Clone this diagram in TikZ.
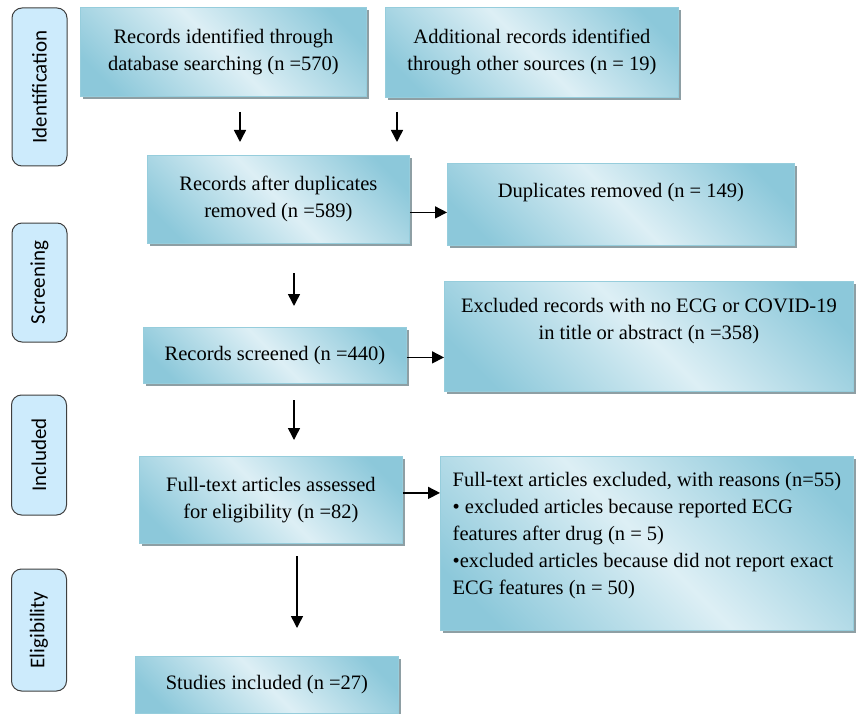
\documentclass[tikz,border=0pt]{standalone}
\usepackage{fontspec}
\setmainfont{Liberation Serif}
\newfontfamily\tabfont{Carlito}
\usepackage[HTML]{xcolor}
\usepackage{tikz}
\usetikzlibrary{positioning, arrows.meta, shadows}

\definecolor{boxdark}{HTML}{8CC8DA}
\definecolor{boxlight}{HTML}{DDEFF5}
\definecolor{boxedge}{HTML}{96CDDC}
\definecolor{shadowgray}{HTML}{8E9FA4}
\definecolor{tabfill}{HTML}{CDEBFC}
\definecolor{tabedge}{HTML}{3F3F3F}

\pgfdeclarehorizontalshading{boxshade}{100bp}{color(0bp)=(boxdark); color(22bp)=(boxdark); color(50bp)=(boxlight); color(78bp)=(boxdark); color(100bp)=(boxdark)}

\tikzset{
  flowbox/.style={draw=boxedge, line width=0.8pt, shade, shading=boxshade, shading angle=45,
    drop shadow={shadow xshift=2.5pt, shadow yshift=-3pt, fill=shadowgray, opacity=1},
    anchor=north west, inner sep=4pt, align=center,
    font=\fontsize{20.5}{27}\selectfont},
  stagetab/.style={draw=tabedge, fill=tabfill, line width=1pt, rounded corners=10pt,
    rotate=90, minimum height=55pt, inner sep=0pt, font=\tabfont\fontsize{21}{24}\selectfont},
  flowarrow/.style={-{Triangle[length=12pt, width=12pt]}, line width=1.5pt}
}

\begin{document}
\begin{tikzpicture}[x=1pt, y=-1pt]
\useasboundingbox (0,0) rectangle (856,714);

% --- stage tabs on the left ---
\node[stagetab, minimum width=158pt] (tabident)  at (39.5,87)  {Identification};
\node[stagetab, minimum width=119pt] (tabscreen) at (39.5,282.5) {Screening};
\node[stagetab, minimum width=120pt] (tabincl)   at (39,455)   {Included};
\node[stagetab, minimum width=122pt] (tabelig)   at (39,630)   {Eligibility};

% --- identification ---
\node[flowbox, minimum width=286pt, minimum height=89pt] (recid) at (80,7)
  {Records identified through\\ database searching (n =570)};
\node[flowbox, minimum width=293pt, minimum height=90pt] (addrec) at (385,7)
  {Additional records identified\\ through other sources (n = 19)};

% --- duplicates ---
\node[flowbox, minimum width=262pt, minimum height=88pt] (afterdup) at (147,155)
  {Records after duplicates\\ removed (n =589)};
\node[flowbox, minimum width=347pt, minimum height=82pt, text depth=29pt] (dupremoved) at (447,163)
  {Duplicates removed (n = 149)};

% --- screening ---
\node[flowbox, minimum width=263pt, minimum height=56pt] (screened) at (143,327)
  {Records screened (n =440)};
\node[flowbox, minimum width=409pt, minimum height=110pt, text depth=35pt] (exclrec) at (444,281)
  {Excluded records with no ECG or COVID-19\\ in title or abstract (n =358)};

% --- eligibility ---
\node[flowbox, minimum width=263pt, minimum height=87pt] (ftassessed) at (139,456)
  {Full-text articles assessed\\ for eligibility (n =82)};
\node[flowbox, minimum width=413pt, minimum height=174pt, align=left, text depth=21pt] (ftexcluded) at (440,456)
  {Full-text articles excluded, with reasons (n=55)\\
   • excluded articles because reported ECG\\
   features after drug (n = 5)\\
   •excluded articles because did not report exact\\
   ECG features (n = 50)};

% --- included ---
\node[flowbox, minimum width=263pt, minimum height=57pt] (included) at (135,656)
  {Studies included (n =27)};

% --- arrows ---
\coordinate (idarrowa) at (240,112);
\coordinate (idarrowb) at (240,142);
\coordinate (addarrowa) at (397,112);
\coordinate (addarrowb) at (397,142);
\coordinate (scrarrowa) at (294,273);
\coordinate (scrarrowb) at (294,306);
\coordinate (ftarrowa) at (294,400);
\coordinate (ftarrowb) at (294,440);
\coordinate (incarrowa) at (297,556);
\coordinate (incarrowb) at (297,628);

\draw[flowarrow] (idarrowa) -- (idarrowb);
\draw[flowarrow] (addarrowa) -- (addarrowb);
\draw[flowarrow] (scrarrowa) -- (scrarrowb);
\draw[flowarrow] (ftarrowa) -- (ftarrowb);
\draw[flowarrow] (incarrowa) -- (incarrowb);

\draw[flowarrow] ([yshift=-13pt]afterdup.east) -- ([yshift=-13pt]afterdup.east -| dupremoved.west);
\draw[flowarrow] ([yshift=-2pt]screened.east) -- ([yshift=-2pt]screened.east -| exclrec.west);
\draw[flowarrow] ([yshift=7pt]ftassessed.east) -- ([yshift=7pt]ftassessed.east -| ftexcluded.west);
\end{tikzpicture}
\end{document}
